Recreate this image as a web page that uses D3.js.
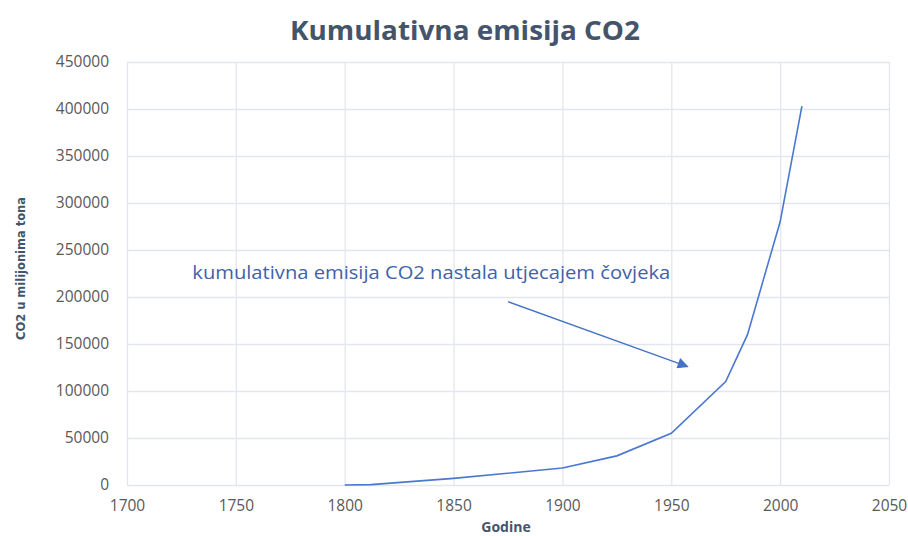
<!DOCTYPE html>
<html>
<head>
<meta charset="utf-8">
<script src="https://cdn.jsdelivr.net/npm/d3@7"></script>
<style>
body{margin:0;background:#fff;}
svg{display:block;}
</style>
</head>
<body>
<svg id="svg" width="908" height="536"></svg>
<script>
var years=[1800,1812,1850,1900,1925,1950,1975,1985,2000,2010];
var emissions=[0,400,7000,18000,31000,55000,110000,160000,280000,403000];
var yTicks=[0,50000,100000,150000,200000,250000,300000,350000,400000,450000];
var xTicks=[1700,1750,1800,1850,1900,1950,2000,2050];
var title="Kumulativna emisija CO2";
var xTitle="Godine";
var yTitle="CO2 u milijonima tona";
var note="kumulativna emisija CO2 nastala utjecajem čovjeka";

var svg=d3.select("#svg");
var padding={top:62,right:19,bottom:51,left:127};
var width=908-padding.left-padding.right;
var height=536-padding.top-padding.bottom;

var xScale=d3.scaleLinear().domain([1700,2050]).range([0,width]);
var yScale=d3.scaleLinear().domain([0,450000]).range([height,0]);

var g=svg.append("g")
    .attr('transform','translate('+padding.left+','+padding.top+')');

// grid
g.append("g")
    .call(d3.axisLeft(yScale).tickValues(yTicks).tickSize(-width).tickFormat(""))
    .call(function(s){s.select(".domain").remove();})
    .selectAll("line").attr("stroke","#e3e6ee").attr("stroke-width",1.3);
g.append("g")
    .attr('transform','translate(0,'+height+')')
    .call(d3.axisBottom(xScale).tickValues(xTicks).tickSize(-height).tickFormat(""))
    .call(function(s){s.select(".domain").remove();})
    .selectAll("line").attr("stroke","#e3e6ee").attr("stroke-width",1.3);

// tick labels
var yAxis=g.append("g")
    .call(d3.axisLeft(yScale).tickValues(yTicks).tickSize(0).tickPadding(18).tickFormat(d3.format("d")));
yAxis.select(".domain").remove();
yAxis.selectAll("text").attr("fill","#595959").style("font-family","Open Sans").style("font-size","15.5px");

var xAxis=g.append("g")
    .attr('transform','translate(0,'+height+')')
    .call(d3.axisBottom(xScale).tickValues(xTicks).tickSize(0).tickPadding(15).tickFormat(d3.format("d")));
xAxis.select(".domain").remove();
xAxis.selectAll("text").attr("fill","#595959").style("font-family","Open Sans").style("font-size","15.5px");

// line
var data=years.map(function(d,i){return {year:d,value:emissions[i]};});
g.append("path")
    .datum(data)
    .attr("fill","none")
    .attr("stroke","#4a78cf")
    .attr("stroke-width",1.6)
    .attr("d",d3.line()
        .x(function(d){return xScale(d.year);})
        .y(function(d){return yScale(d.value);}));

// titles
svg.append("text")
    .attr("x",465).attr("y",40)
    .attr("text-anchor","middle")
    .attr("fill","#44546a")
    .style("font-family","Open Sans").style("font-weight","bold").style("font-size","27px")
    .attr("textLength",350).attr("lengthAdjust","spacingAndGlyphs")
    .text(title);

svg.append("text")
    .attr("x",506).attr("y",532)
    .attr("text-anchor","middle")
    .attr("fill","#44546a")
    .style("font-family","Open Sans").style("font-weight","bold").style("font-size","14px")
    .text(xTitle);

svg.append("text")
    .attr("transform","translate(25,"+(padding.top+height/2 - 5)+") rotate(-90)")
    .attr("text-anchor","middle")
    .attr("fill","#44546a")
    .style("font-family","DejaVu Sans Condensed").style("font-stretch","condensed")
    .style("font-weight","bold").style("font-size","13px")
    .attr("textLength",143).attr("lengthAdjust","spacingAndGlyphs")
    .text(yTitle);

// annotation
svg.append("defs").append("marker")
    .attr("id","arrow")
    .attr("viewBox","0 0 10 10")
    .attr("refX",9).attr("refY",5)
    .attr("markerWidth",14).attr("markerHeight",11)
    .attr("markerUnits","userSpaceOnUse")
    .attr("orient","auto")
    .append("path").attr("d","M0,0L10,5L0,10Z").attr("fill","#4472c4");

g.append("text")
    .attr("x",xScale(1730)).attr("y",yScale(219000))
    .attr("fill","#3f62a8")
    .style("font-family","Open Sans").style("font-size","19px")
    .attr("textLength",478).attr("lengthAdjust","spacingAndGlyphs")
    .text(note);

g.append("line")
    .attr("x1",xScale(1875)).attr("y1",yScale(195000))
    .attr("x2",xScale(1957.5)).attr("y2",yScale(126000))
    .attr("stroke","#4472c4").attr("stroke-width",1.3)
    .attr("marker-end","url(#arrow)");
</script>
</body>
</html>
